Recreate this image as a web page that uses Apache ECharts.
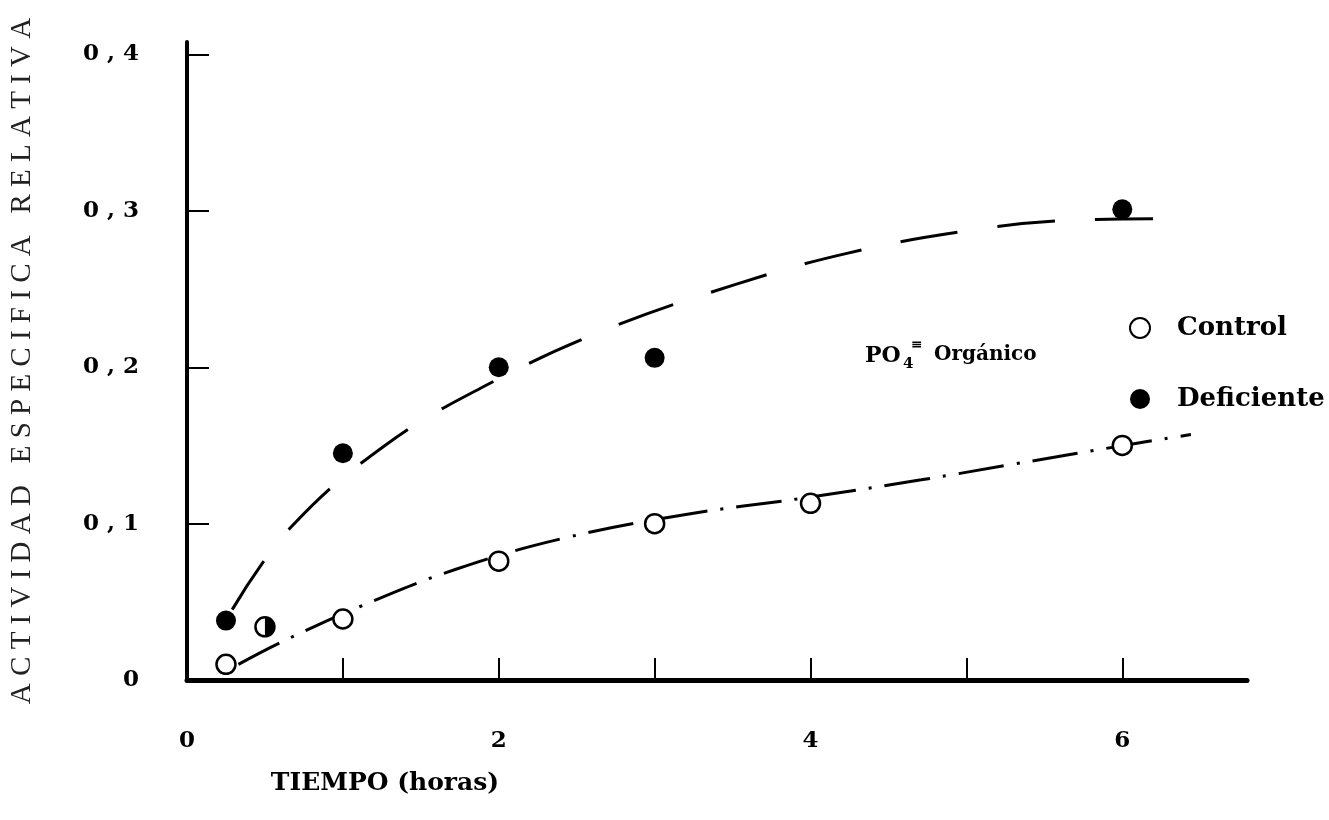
<!DOCTYPE html>
<html>
<head>
<meta charset="utf-8">
<script src="https://cdn.jsdelivr.net/npm/echarts@6/dist/echarts.min.js"></script>
<style>
  html, body { margin: 0; padding: 0; background: #fff; }
  #main { width: 1329px; height: 820px; }
</style>
</head>
<body>
<div id="main"></div>
<script>
const chartDom = document.getElementById('main');
const myChart = echarts.init(chartDom);

// puntos medidos
const xControl = [0.25, 1, 2, 3, 4, 6];
const yControl = [0.010, 0.039, 0.076, 0.100, 0.113, 0.150];
const xDeficiente = [0.25, 1, 2, 3, 6];
const yDeficiente = [0.038, 0.145, 0.200, 0.206, 0.301];
const xMitad = [0.5];
const yMitad = [0.034];

// curvas trazadas a mano
const xCurvaDef = [0.29, 0.66, 1.27, 1.91, 2.66, 3.52, 4.24, 4.99, 5.67, 6.29];
const yCurvaDef = [0.045, 0.097, 0.150, 0.188, 0.223, 0.253, 0.273, 0.287, 0.294, 0.295];
const xCurvaCtrl = [0.33, 0.60, 1.11, 1.73, 2.43, 3.21, 3.93, 4.71, 5.30, 6.01, 6.44];
const yCurvaCtrl = [0.010, 0.024, 0.047, 0.071, 0.091, 0.106, 0.116, 0.128, 0.138, 0.150, 0.157];

const xTicks = [1, 2, 3, 4, 5, 6];
const xLabels = [0, 2, 4, 6];
const yTicks = [0.1, 0.2, 0.3, 0.4];
const yLabels = [0, 0.1, 0.2, 0.3, 0.4];

const pares = (xs, ys) => xs.map((x, i) => [x, ys[i]]);

const fuenteBold = '"DejaVu Serif", serif';

const option = {
    animation: false,
    backgroundColor: '#fff',
    grid: { left: 186, right: 82, top: 42, bottom: 140 },
    xAxis: {
        type: 'value',
        min: 0,
        max: 6.8,
        interval: 1,
        axisLine: { onZero: false, lineStyle: { color: '#000', width: 5 } },
        axisTick: { show: true, inside: true, length: 22, customValues: xTicks, lineStyle: { color: '#000', width: 2 } },
        axisLabel: {
            customValues: xLabels,
            margin: 50,
            color: '#000',
            fontFamily: fuenteBold,
            fontWeight: 'bold',
            fontSize: 23,
            formatter: (v) => String(v)
        },
        splitLine: { show: false }
    },
    yAxis: {
        type: 'value',
        min: 0,
        max: 0.408,
        interval: 0.1,
        name: 'A C T I V I D A D   E S P E C I F I C A   R E L A T I V A',
        nameLocation: 'middle',
        nameRotate: 90,
        nameGap: 150,
        nameTextStyle: { fontFamily: '"Liberation Serif", serif', fontSize: 29, color: '#222' },
        axisLine: { onZero: false, lineStyle: { color: '#000', width: 4 } },
        axisTick: { show: true, inside: true, length: 22, customValues: yTicks, lineStyle: { color: '#000', width: 2 } },
        axisLabel: {
            customValues: yLabels,
            margin: 48,
            color: '#000',
            fontFamily: fuenteBold,
            fontWeight: 'bold',
            fontSize: 23,
            formatter: (v) => v === 0 ? '0' : '0 , ' + Math.round(v * 10)
        },
        splitLine: { show: false }
    },
    legend: {
        data: ['Control', 'Deficiente'],
        orient: 'vertical',
        left: 1124,
        top: 310,
        itemWidth: 20,
        itemHeight: 20,
        itemGap: 45,
        icon: 'circle',
        textStyle: { fontFamily: fuenteBold, fontWeight: 'bold', fontSize: 26, color: '#000', padding: [0, 0, 0, 22] }
    },
    graphic: [
        { type: 'text', x: 865, y: 345, style: { text: 'PO', font: 'bold 22px "DejaVu Serif"', fill: '#000' } },
        { type: 'text', x: 903, y: 357, style: { text: '4', font: 'bold 15px "DejaVu Serif"', fill: '#000' } },
        { type: 'text', x: 911, y: 338, style: { text: '≡', font: 'bold 14px "DejaVu Serif"', fill: '#000' } },
        { type: 'text', x: 934, y: 345, style: { text: 'Orgánico', font: 'bold 20px "DejaVu Serif"', fill: '#000' } },
        { type: 'text', x: 385, y: 783, style: { text: 'TIEMPO (horas)', font: 'bold 25px "DejaVu Serif"', fill: '#000', align: 'center', verticalAlign: 'middle' } }
    ],
    series: [
        {
            name: 'Curva deficiente',
            type: 'line',
            data: pares(xCurvaDef, yCurvaDef),
            smooth: 0.4,
            symbol: 'none',
            lineStyle: { color: '#000', width: 3, type: [58, 40] },
            z: 1
        },
        {
            name: 'Curva control',
            type: 'line',
            data: pares(xCurvaCtrl, yCurvaCtrl),
            smooth: 0.4,
            symbol: 'none',
            lineStyle: { color: '#000', width: 3, type: [46, 13, 3, 13] },
            z: 1
        },
        {
            name: 'Control',
            type: 'scatter',
            data: pares(xControl, yControl),
            symbol: 'circle',
            symbolSize: 19,
            itemStyle: { color: '#fff', borderColor: '#000', borderWidth: 2.5, opacity: 1 },
            z: 3
        },
        {
            name: 'Deficiente',
            type: 'scatter',
            data: pares(xDeficiente, yDeficiente),
            symbol: 'circle',
            symbolSize: 20,
            itemStyle: { color: '#000', opacity: 1 },
            z: 3
        },
        {
            name: 'Mitad',
            type: 'scatter',
            data: pares(xMitad, yMitad),
            symbol: 'circle',
            symbolSize: 19,
            itemStyle: { color: '#fff', borderColor: '#000', borderWidth: 2.5, opacity: 1 },
            z: 3
        },
        {
            name: 'Mitad relleno',
            type: 'scatter',
            data: pares(xMitad, yMitad),
            symbol: 'path://M0,0 A10,10 0 0,1 0,20 Z',
            symbolKeepAspect: true,
            symbolSize: 19,
            symbolOffset: ['25%', 0],
            itemStyle: { color: '#000', opacity: 1 },
            z: 4
        }
    ]
};

myChart.setOption(option);

window.addEventListener('resize', () => {
    myChart.resize();
});
</script>
</body>
</html>
